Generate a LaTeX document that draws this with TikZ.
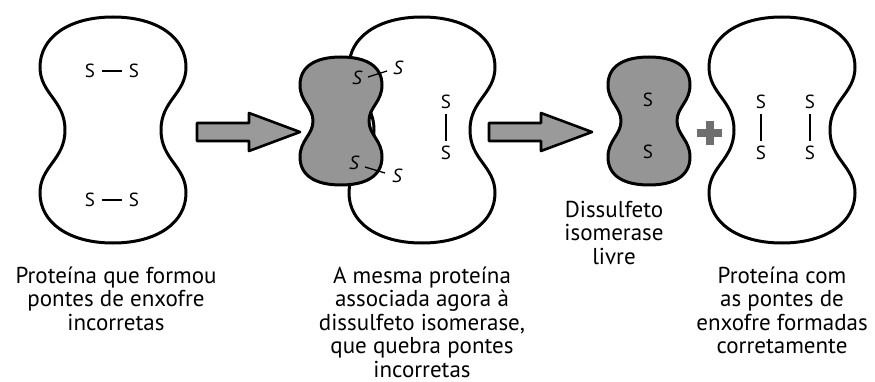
\documentclass[tikz,border=0pt]{standalone}
\usepackage{fontspec}
\setmainfont{PT Sans}
\begin{document}
\begin{tikzpicture}[x=1pt,y=-1pt,
  outline/.style={draw=black,line width=3pt,line join=round},
  protein/.pic={
    \path[outline,fill=white]
      (0,-113) .. controls (45,-113) and (73,-92) .. (73,-63)
      .. controls (73,-36) and (48,-30) .. (48,0)
      .. controls (48,30) and (73,36) .. (73,63)
      .. controls (73,92) and (45,113) .. (0,113)
      .. controls (-45,113) and (-73,92) .. (-73,63)
      .. controls (-73,36) and (-48,30) .. (-48,0)
      .. controls (-48,-30) and (-73,-36) .. (-73,-63)
      .. controls (-73,-92) and (-45,-113) .. (0,-113) -- cycle;
  },
  enzyme/.pic={
    \path[outline,fill=enzgray]
      (0,-64) .. controls (25,-64) and (41,-55) .. (41,-36)
      .. controls (41,-19) and (28,-14) .. (28,0)
      .. controls (28,14) and (41,19) .. (41,36)
      .. controls (41,55) and (25,64) .. (0,64)
      .. controls (-25,64) and (-41,55) .. (-41,36)
      .. controls (-41,19) and (-28,14) .. (-28,0)
      .. controls (-28,-14) and (-41,-19) .. (-41,-36)
      .. controls (-41,-55) and (-25,-64) .. (0,-64) -- cycle;
  },
  blockarrow/.pic={
    \path[outline,line width=2.6pt,fill=arrowgray]
      (0,-9) -- (52,-9) -- (52,-19) -- (103,0) -- (52,19) -- (52,9) -- (0,9) -- cycle;
  },
  sul/.style={inner sep=0pt,font=\fontsize{19}{19}\selectfont},
  sulit/.style={sul,font=\fontsize{19}{19}\selectfont\itshape},
  bond/.style={draw=black,line width=1.3pt},
  % anchor=base sits on the baseline of the last line
  caption/.style={align=center,anchor=base,inner sep=0pt,
    font=\fontsize{23}{23.5}\selectfont}
]
\definecolor{enzgray}{HTML}{959595}
\definecolor{arrowgray}{HTML}{9A9A9A}
\definecolor{plusgray}{HTML}{6E6E6E}
\useasboundingbox (0,0) rectangle (875,382);

% Protein with wrong disulfide bridges
\pic at (113,130) {protein};
\node[sul] (a1) at (90,71) {S};
\node[sul] (a2) at (134,71) {S};
\draw[bond,shorten <=6.5pt,shorten >=6.5pt] (a1.east) -- (a2.west);
\node[sul] (a3) at (90,200) {S};
\node[sul] (a4) at (134,200) {S};
\draw[bond,shorten <=6.5pt,shorten >=6.5pt] (a3.east) -- (a4.west);

% First reaction arrow
\pic at (197,132) {blockarrow};

% Protein bound to the isomerase
\pic at (422,130) {protein};
\pic at (341,121) {enzyme};
\node[sulit] (b1) at (357,78) {S};
\node[sulit] (b2) at (398,68) {S};
\draw[bond] (368,77) -- (387,71);
\node[sulit] (b3) at (354,163) {S};
\node[sulit] (b4) at (397,176) {S};
\draw[bond] (365,167) -- (385,173);
\node[sul] (b5) at (446,102) {S};
\node[sul] (b6) at (446,153) {S};
\draw[bond,shorten <=5pt,shorten >=5pt] (b5.south) -- (b6.north);

% Second reaction arrow
\pic at (489,132) {blockarrow};

% Free isomerase
\pic at (649,121) {enzyme};
\node[sul] (c1) at (648,100) {S};
\node[sul] (c2) at (648,152) {S};

% Plus sign
\fill[plusgray] (697,129) rectangle (722,137);
\fill[plusgray] (705.5,121) rectangle (713.5,145);

% Correctly folded protein
\pic at (782,130) {protein};
\node[sul] (d1) at (761,102) {S};
\node[sul] (d2) at (761,153) {S};
\draw[bond,shorten <=5pt,shorten >=5pt] (d1.south) -- (d2.north);
\node[sul] (d3) at (810,102) {S};
\node[sul] (d4) at (810,153) {S};
\draw[bond,shorten <=5pt,shorten >=5pt] (d3.south) -- (d4.north);

% Captions
\node[caption] (t1) at (116,330) {Proteína que formou\\pontes de enxofre\\incorretas};
\node[caption] (t2) at (422,377) {A mesma proteína\\associada agora à\\dissulfeto isomerase,\\que quebra pontes\\incorretas};
\node[caption] (t3) at (614,264) {Dissulfeto\\isomerase\\livre};
\node[caption] (t4) at (782,353.5) {Proteína com\\as pontes de\\enxofre formadas\\corretamente};
\end{tikzpicture}
\end{document}
